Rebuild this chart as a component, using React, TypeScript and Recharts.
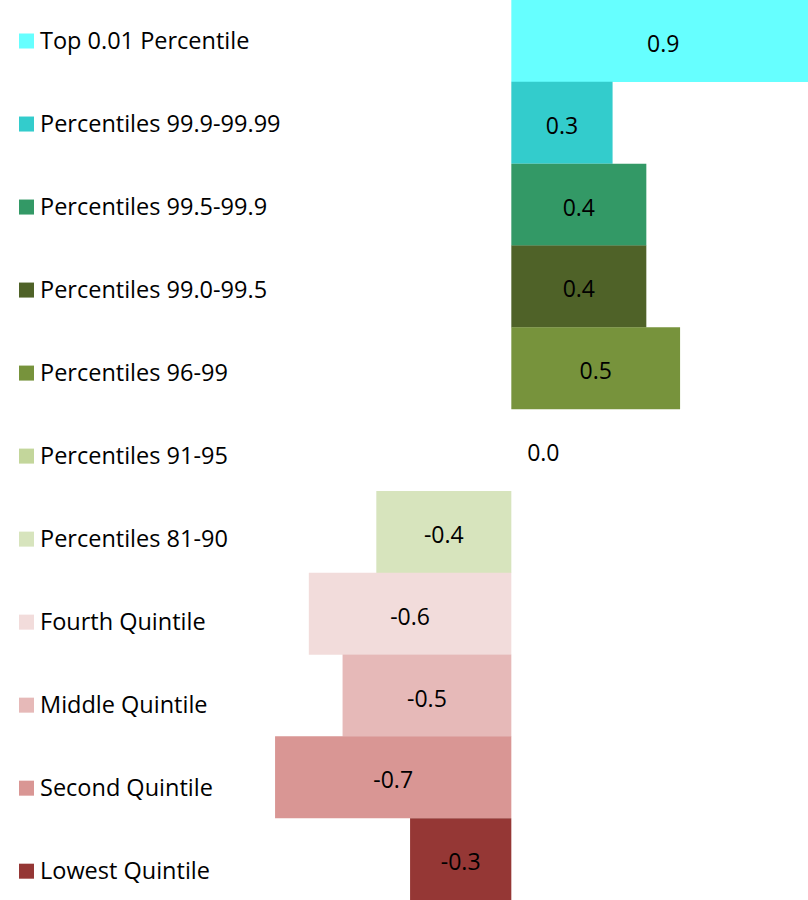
import { BarChart, Bar, XAxis, YAxis, Cell, LabelList } from "recharts";

const GROUPS = [
  "Top 0.01 Percentile",
  "Percentiles 99.9-99.99",
  "Percentiles 99.5-99.9",
  "Percentiles 99.0-99.5",
  "Percentiles 96-99",
  "Percentiles 91-95",
  "Percentiles 81-90",
  "Fourth Quintile",
  "Middle Quintile",
  "Second Quintile",
  "Lowest Quintile",
];

const CHANGE = [0.9, 0.3, 0.4, 0.4, 0.5, 0.0, -0.4, -0.6, -0.5, -0.7, -0.3];

const COLORS = [
  "#66ffff",
  "#33cccc",
  "#339966",
  "#4f6228",
  "#77933c",
  "#c3d69b",
  "#d7e4bd",
  "#f2dcdb",
  "#e6b9b8",
  "#d99694",
  "#953735",
];

const W = 808;
const H = 900;
const AXIS_W = 1;
const DOMAIN: [number, number] = [-1.512, 0.879];
const FONT = "'Open Sans', sans-serif";
// legend rows are spaced a bit wider than the bar bands
const LEGEND_STEP_EXTRA = 1.2;

const data = GROUPS.map((name, i) => ({ name, value: CHANGE[i] }));

// pixel of value 0 along the x scale (plot spans AXIS_W..W)
const zeroX = AXIS_W + ((0 - DOMAIN[0]) / (DOMAIN[1] - DOMAIN[0])) * (W - AXIS_W);

const LegendTick = (props: any) => {
  const { y, payload } = props;
  const i = payload.index;
  const ly = y - 0.4 + LEGEND_STEP_EXTRA * i;
  return (
    <g>
      <rect x={19} y={ly - 7} width={15} height={15} fill={COLORS[i]} />
      <text
        x={40}
        y={ly - 1}
        dominantBaseline="central"
        fontFamily={FONT}
        fontSize={23.5}
        fill="#000"
      >
        {payload.value}
      </text>
      {CHANGE[i] === 0 && (
        <text
          x={zeroX + 32}
          y={y + 2}
          textAnchor="middle"
          dominantBaseline="central"
          fontFamily={FONT}
          fontSize={23}
          fill="#000"
        >
          {CHANGE[i].toFixed(1)}
        </text>
      )}
    </g>
  );
};

const ValueLabel = (props: any) => {
  const { x, y, width, height, value } = props;
  if (value === 0) return null;
  const cx = x + width / 2;
  return (
    <text
      x={cx}
      y={y + height / 2 + 2}
      textAnchor="middle"
      dominantBaseline="central"
      fontFamily={FONT}
      fontSize={23}
      fill="#000"
    >
      {Number(value).toFixed(1)}
    </text>
  );
};

export default function App() {
  return (
    <div style={{ position: "absolute", left: 0, top: 0, width: W, height: H, background: "#fff" }}>
      <BarChart
        width={W}
        height={H}
        data={data}
        layout="vertical"
        margin={{ top: 0, right: 0, bottom: 0, left: 0 }}
        barCategoryGap={0}
      >
        <XAxis type="number" hide domain={DOMAIN} allowDataOverflow />
        <YAxis
          type="category"
          dataKey="name"
          width={AXIS_W}
          axisLine={false}
          tickLine={false}
          tick={LegendTick}
          interval={0}
        />
        <Bar dataKey="value" isAnimationActive={false}>
          {data.map((_, i) => (
            <Cell key={`c-${i}`} fill={COLORS[i]} />
          ))}
          <LabelList dataKey="value" content={ValueLabel} />
        </Bar>
      </BarChart>
    </div>
  );
}
